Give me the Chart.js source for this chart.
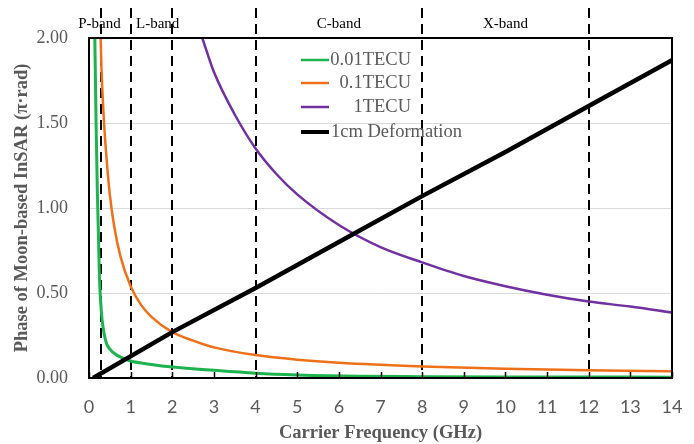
<!DOCTYPE html>
<html>
<head>
<meta charset="utf-8">
<script src="https://cdn.jsdelivr.net/npm/chart.js@4"></script>
<style>
  html, body { margin: 0; padding: 0; background: #fff; }
  #wrap { width: 694px; height: 444px; }
</style>
</head>
<body>
<div id="wrap"><canvas id="myChart" width="694" height="444"></canvas></div>
<script>
// values (frequency in GHz, phase in pi rad)
const greenFreq = [0.14, 0.17, 0.2, 0.25, 0.3, 0.4, 0.5, 0.7, 1, 1.5, 2, 3, 4, 5, 6.5, 8, 10, 14];
const greenPhase = [2.0, 1.5, 1.1, 0.6, 0.38, 0.22, 0.17, 0.13, 0.1, 0.08, 0.065, 0.045, 0.028, 0.018, 0.01, 0.008, 0.006, 0.005];

const orangeFreq = [0.28, 0.3, 0.35, 0.4, 0.5, 0.6, 0.75, 1, 1.25, 1.5, 2, 2.5, 3, 4, 5, 6, 8, 10, 12, 14];
const orangePhase = [2.0, 1.82, 1.55, 1.36, 1.08, 0.9, 0.72, 0.54, 0.43, 0.36, 0.27, 0.22, 0.18, 0.135, 0.108, 0.09, 0.068, 0.054, 0.045, 0.039];

const purpleFreq = [2.72, 3, 3.5, 4, 4.5, 5, 6, 7, 8, 9, 10, 11, 12, 13, 14];
const purplePhase = [2.0, 1.8, 1.55, 1.35, 1.2, 1.08, 0.9, 0.77, 0.68, 0.6, 0.54, 0.49, 0.45, 0.42, 0.385];

const blackFreq = [0.1, 2, 4, 6, 8, 10, 12, 14];
const blackPhase = [0.0, 0.27, 0.53, 0.8, 1.07, 1.33, 1.6, 1.87];

const seriesNames = ['0.01TECU', '0.1TECU', '1TECU', '1cm Deformation'];
const seriesColors = ['#1db34f', '#ee7018', '#7030a0', '#000000'];

const bandLines = [0.3, 1, 2, 4, 8, 12];
const bandNames = ['P-band', 'L-band', 'C-band', 'X-band'];
const bandCenters = [0.25, 1.65, 6, 10];

const xTicks = [0, 1, 2, 3, 4, 5, 6, 7, 8, 9, 10, 11, 12, 13, 14];

function pts(xs, ys) {
  return xs.map((x, i) => ({x: x, y: ys[i]}));
}

const gray = '#595959';

// dashed band boundaries + labels, plot frame, inner x ticks, legend
const decor = {
  id: 'decor',
  beforeDatasetsDraw(chart) {
    const ctx = chart.ctx;
    const xs = chart.scales.x;
    const a = chart.chartArea;
    ctx.save();
    ctx.strokeStyle = '#000';
    ctx.lineWidth = 2;
    ctx.setLineDash([10, 6]);
    bandLines.forEach(v => {
      const px = Math.round(xs.getPixelForValue(v));
      ctx.beginPath();
      ctx.moveTo(px, 8);
      ctx.lineTo(px, a.bottom);
      ctx.stroke();
    });
    ctx.setLineDash([]);
    ctx.fillStyle = '#000';
    ctx.font = '15px "Liberation Serif"';
    ctx.textAlign = 'center';
    ctx.textBaseline = 'middle';
    bandNames.forEach((n, i) => {
      ctx.fillText(n, xs.getPixelForValue(bandCenters[i]), 24);
    });
    ctx.restore();
  },
  afterDatasetsDraw(chart) {
    const ctx = chart.ctx;
    const xs = chart.scales.x;
    const a = chart.chartArea;
    ctx.save();
    ctx.strokeStyle = '#000';
    ctx.lineWidth = 2;
    ctx.strokeRect(a.left, a.top, a.right - a.left, a.bottom - a.top);
    ctx.lineWidth = 1.5;
    xTicks.forEach(v => {
      const px = Math.round(xs.getPixelForValue(v)) + 0.5;
      ctx.beginPath();
      ctx.moveTo(px, a.bottom);
      ctx.lineTo(px, a.bottom - 6);
      ctx.stroke();
    });
    // legend
    const rows = [60, 83, 107, 132];
    ctx.font = '18.5px "Liberation Serif"';
    ctx.textBaseline = 'middle';
    seriesNames.forEach((n, i) => {
      ctx.strokeStyle = seriesColors[i];
      ctx.lineWidth = i === 3 ? 4 : 2.5;
      ctx.beginPath();
      ctx.moveTo(301, rows[i]);
      ctx.lineTo(329, rows[i]);
      ctx.stroke();
      ctx.fillStyle = gray;
      if (i < 3) {
        ctx.textAlign = 'right';
        ctx.fillText(n, 411, rows[i]);
      } else {
        ctx.textAlign = 'left';
        ctx.fillText(n, 331, rows[i]);
      }
    });
    ctx.restore();
  }
};

const ctx = document.getElementById('myChart').getContext('2d');
new Chart(ctx, {
  type: 'line',
  data: {
    datasets: [
      {label: seriesNames[0], data: pts(greenFreq, greenPhase), borderColor: seriesColors[0], borderWidth: 3, pointRadius: 0, cubicInterpolationMode: 'monotone', order: 4},
      {label: seriesNames[1], data: pts(orangeFreq, orangePhase), borderColor: seriesColors[1], borderWidth: 2.5, pointRadius: 0, cubicInterpolationMode: 'monotone', order: 3},
      {label: seriesNames[2], data: pts(purpleFreq, purplePhase), borderColor: seriesColors[2], borderWidth: 2.5, pointRadius: 0, cubicInterpolationMode: 'monotone', order: 2},
      {label: seriesNames[3], data: pts(blackFreq, blackPhase), borderColor: seriesColors[3], borderWidth: 4.5, pointRadius: 0, order: 1}
    ]
  },
  options: {
    responsive: false,
    animation: false,
    layout: {padding: {left: 0, right: 22, top: 38, bottom: 0}},
    plugins: {
      legend: {display: false},
      tooltip: {enabled: false}
    },
    scales: {
      x: {
        type: 'linear',
        min: 0,
        max: 14,
        afterBuildTicks(s) { s.ticks = xTicks.map(v => ({value: v})); },
        grid: {display: false},
        border: {display: false},
        ticks: {
          color: gray,
          font: {family: 'Lato', size: 18},
          padding: 10,
          maxRotation: 0
        },
        title: {
          display: true,
          text: 'Carrier Frequency (GHz)',
          color: gray,
          font: {family: 'Liberation Serif', size: 18.5, weight: 'bold'},
          padding: {top: 0, bottom: 0}
        },
        afterFit(s) { s.height = 444 - 378; }
      },
      y: {
        min: 0,
        max: 2,
        ticks: {
          stepSize: 0.5,
          color: gray,
          font: {family: 'Liberation Serif', size: 18},
          padding: 21,
          callback: v => v.toFixed(2)
        },
        grid: {color: '#d9d9d9', drawTicks: false},
        border: {display: false},
        title: {
          display: true,
          text: 'Phase of Moon-based InSAR (π·rad)',
          color: gray,
          font: {family: 'Liberation Serif', size: 18.5, weight: 'bold'},
          padding: {top: 11, bottom: 0}
        },
        afterFit(s) { s.width = 89; }
      }
    }
  },
  plugins: [decor]
});
</script>
</body>
</html>
